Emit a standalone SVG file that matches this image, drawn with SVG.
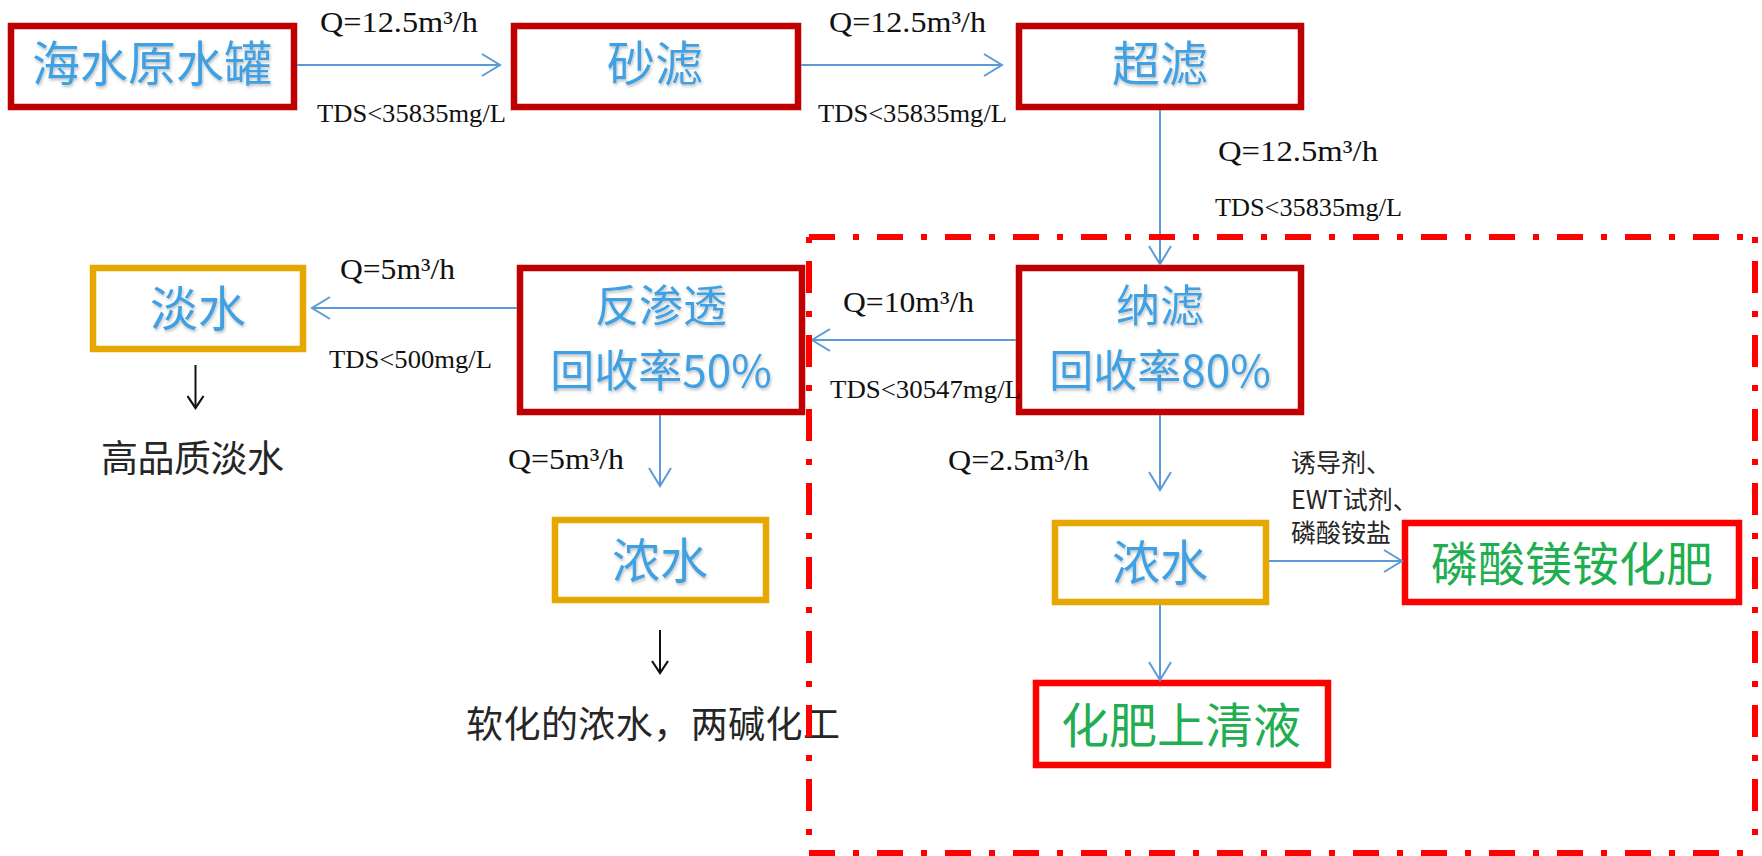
<svg xmlns="http://www.w3.org/2000/svg" width="1762" height="856" viewBox="0 0 1762 856">
<style>
.bx{fill:#fff;stroke-width:6.5}
.dr{stroke:#c00000}
.gd{stroke:#e6a700}
.rd{stroke:#ff0000}
.bt{font-family:"Noto Sans CJK SC",sans-serif;fill:#3fa0e2;text-anchor:middle;filter:url(#sh)}
.gt{font-family:"Noto Sans CJK SC",sans-serif;fill:#1fae50;text-anchor:middle}
.kt{font-family:"Noto Sans CJK SC",sans-serif;fill:#262626}
.lb{font-family:"Liberation Serif",serif;fill:#111}
.cn{fill:none;stroke:#5b9bd5;stroke-width:2}
.ka{fill:none;stroke:#111;stroke-width:2}
.fr{fill:none;stroke:#ff0000;stroke-width:6}
</style>
<defs>
<filter id="sh" x="-10%" y="-10%" width="120%" height="130%">
<feDropShadow dx="1" dy="2" stdDeviation="1.5" flood-color="#000" flood-opacity="0.25"/>
</filter>
<marker id="ah" markerUnits="userSpaceOnUse" viewBox="0 0 22 24" markerWidth="22" markerHeight="24" refX="20" refY="12" orient="auto">
<path d="M2,1 L20,12 L2,23" fill="none" stroke="#5b9bd5" stroke-width="2"/>
</marker>
<marker id="kh" markerUnits="userSpaceOnUse" viewBox="0 0 16 18" markerWidth="16" markerHeight="18" refX="14" refY="9" orient="auto">
<path d="M2,1 L14,9 L2,17" fill="none" stroke="#111" stroke-width="2.2"/>
</marker>
</defs>
<rect width="1762" height="856" fill="#fff"/>

<g id="n-tank"><rect class="bx dr" x="11" y="26" width="283" height="81"/><text class="bt" x="152" y="81" font-size="48">海水原水罐</text></g>
<g id="n-sand"><rect class="bx dr" x="514" y="26" width="284" height="81"/><text class="bt" x="655" y="81" font-size="48">砂滤</text></g>
<g id="n-uf"><rect class="bx dr" x="1019" y="26" width="282" height="81"/><text class="bt" x="1160" y="81" font-size="48">超滤</text></g>
<g id="n-nf"><rect class="bx dr" x="1019" y="268" width="282" height="144"/><text class="bt" x="1160" y="322" font-size="44">纳滤</text><text class="bt" x="1160" y="387" font-size="44">回收率80%</text></g>
<g id="n-ro"><rect class="bx dr" x="520" y="268" width="282" height="144"/><text class="bt" x="661" y="322" font-size="44">反渗透</text><text class="bt" x="661" y="387" font-size="44">回收率50%</text></g>
<g id="n-fresh"><rect class="bx gd" x="93" y="268" width="210" height="81"/><text class="bt" x="198" y="326" font-size="48">淡水</text></g>
<g id="n-conc1"><rect class="bx gd" x="555" y="520" width="211" height="80"/><text class="bt" x="660" y="578" font-size="48">浓水</text></g>
<g id="n-conc2"><rect class="bx gd" x="1055" y="523" width="211" height="79"/><text class="bt" x="1160" y="580" font-size="48">浓水</text></g>
<g id="n-map"><rect class="bx rd" x="1405" y="523" width="334" height="79"/><text class="gt" x="1572" y="581" font-size="47">磷酸镁铵化肥</text></g>
<g id="n-sup"><rect class="bx rd" x="1036" y="683" width="292" height="82"/><text class="gt" x="1181" y="743" font-size="48">化肥上清液</text></g>

<g id="labels">
<text class="lb" x="320" y="32" font-size="30" textLength="158" lengthAdjust="spacingAndGlyphs">Q=12.5m³/h</text>
<text class="lb" x="317" y="122" font-size="26" textLength="189" lengthAdjust="spacingAndGlyphs">TDS&lt;35835mg/L</text>
<text class="lb" x="829" y="32" font-size="30" textLength="157" lengthAdjust="spacingAndGlyphs">Q=12.5m³/h</text>
<text class="lb" x="818" y="122" font-size="26" textLength="189" lengthAdjust="spacingAndGlyphs">TDS&lt;35835mg/L</text>
<text class="lb" x="1218" y="161" font-size="30" textLength="160" lengthAdjust="spacingAndGlyphs">Q=12.5m³/h</text>
<text class="lb" x="1215" y="216" font-size="26" textLength="187" lengthAdjust="spacingAndGlyphs">TDS&lt;35835mg/L</text>
<text class="lb" x="340" y="279" font-size="30" textLength="115" lengthAdjust="spacingAndGlyphs">Q=5m³/h</text>
<text class="lb" x="329" y="368" font-size="26" textLength="163" lengthAdjust="spacingAndGlyphs">TDS&lt;500mg/L</text>
<text class="lb" x="843" y="312" font-size="30" textLength="131" lengthAdjust="spacingAndGlyphs">Q=10m³/h</text>
<text class="lb" x="830" y="398" font-size="26" textLength="191" lengthAdjust="spacingAndGlyphs">TDS&lt;30547mg/L</text>
<text class="lb" x="508" y="469" font-size="30" textLength="116" lengthAdjust="spacingAndGlyphs">Q=5m³/h</text>
<text class="lb" x="948" y="470" font-size="30" textLength="141" lengthAdjust="spacingAndGlyphs">Q=2.5m³/h</text>
<text class="kt" x="101" y="472" font-size="37" textLength="183">高品质淡水</text>
<text class="kt" x="466" y="738" font-size="37" textLength="374">软化的浓水，两碱化工</text>
<text class="kt" x="1291" y="472" font-size="25">诱导剂、</text>
<text class="kt" x="1291" y="509" font-size="25">EWT试剂、</text>
<text class="kt" x="1291" y="542" font-size="25">磷酸铵盐</text>
</g>

<g id="connectors">
<path class="cn" d="M297,65 H500" marker-end="url(#ah)"/>
<path class="cn" d="M801,65 H1002" marker-end="url(#ah)"/>
<path class="cn" d="M1160,110 V264" marker-end="url(#ah)"/>
<path class="cn" d="M1016,340 H812" marker-end="url(#ah)"/>
<path class="cn" d="M517,308 H312" marker-end="url(#ah)"/>
<path class="cn" d="M660,415 V486" marker-end="url(#ah)"/>
<path class="cn" d="M1160,415 V490" marker-end="url(#ah)"/>
<path class="cn" d="M1269,561 H1402" marker-end="url(#ah)"/>
<path class="cn" d="M1160,605 V680" marker-end="url(#ah)"/>
<path class="ka" d="M195.5,365 V408" marker-end="url(#kh)"/>
<path class="ka" d="M660,630 V673" marker-end="url(#kh)"/>
</g>

<g id="frame">
<path class="fr" d="M809,237 H1755" stroke-dasharray="26 18 6 18"/>
<path class="fr" d="M809,853 H1755" stroke-dasharray="26 18 6 18"/>
<path class="fr" d="M809,237 V853" stroke-dasharray="6 18 32 18"/>
<path class="fr" d="M1755,237 V853" stroke-dasharray="6 18 32 18"/>
</g>
</svg>
